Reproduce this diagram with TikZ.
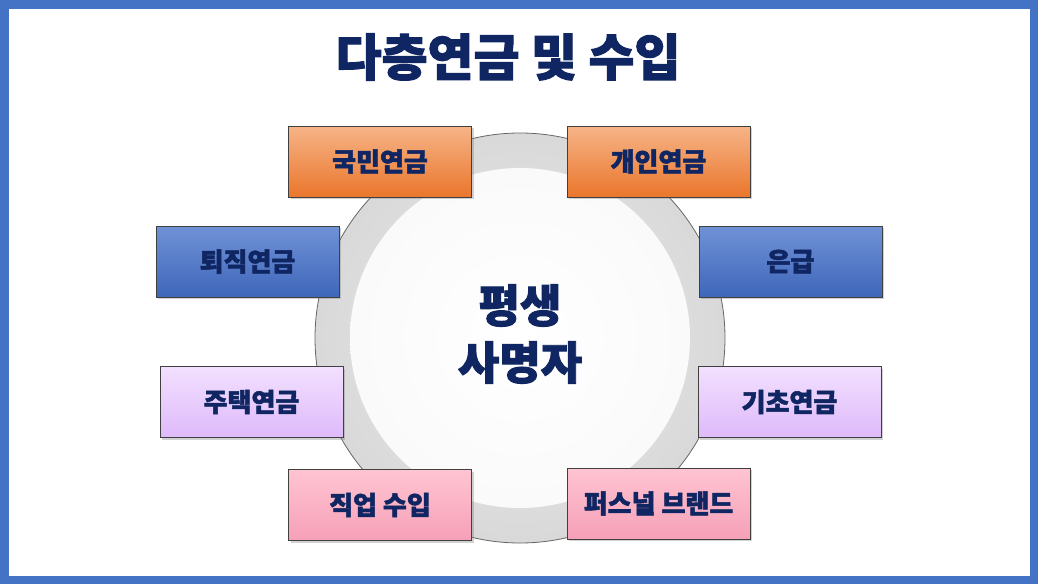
\documentclass[tikz,border=0pt]{standalone}
\usepackage{fontspec}
\setmainfont{Noto Sans CJK KR}[BoldFeatures={FakeBold=2}]
\usetikzlibrary{shadows}
\definecolor{frameblue}{RGB}{68,114,196}
\definecolor{navy}{RGB}{16,38,98}
\definecolor{orTop}{RGB}{246,180,135}
\definecolor{orBot}{RGB}{234,118,44}
\definecolor{blTop}{RGB}{112,146,214}
\definecolor{blBot}{RGB}{62,102,186}
\definecolor{lvTop}{RGB}{243,224,255}
\definecolor{lvBot}{RGB}{222,186,250}
\definecolor{pkTop}{RGB}{255,196,210}
\definecolor{pkBot}{RGB}{246,160,184}
\tikzset{
  item/.style={draw=black!75, line width=0.8pt, minimum width=183pt, minimum height=71pt,
    inner sep=0pt, text=navy, font=\bfseries\fontsize{26}{30}\selectfont,
    drop shadow={shadow xshift=2pt, shadow yshift=-2pt, opacity=0.35}},
  orangebox/.style={item, top color=orTop, bottom color=orBot},
  bluebox/.style={item, top color=blTop, bottom color=blBot},
  lavbox/.style={item, top color=lvTop, bottom color=lvBot},
  pinkbox/.style={item, top color=pkTop, bottom color=pkBot},
}
\begin{document}
\begin{tikzpicture}[x=1pt,y=-1pt]
\useasboundingbox (0,0) rectangle (1038,584);
% frame
\fill[frameblue] (0,0) rectangle (1038,584);
\fill[white] (9,9) rectangle (1030,576);
% title
\node[text=navy, font=\bfseries\fontsize{50}{58}\selectfont] (title) at (508,57) {다층연금 및 수입};
% ring
\node[circle, minimum size=410pt, draw=black!60, line width=0.8pt, inner sep=0pt,
  inner color=black!8, outer color=black!15] (ring) at (520,338) {};
\node[circle, minimum size=340pt, inner sep=0pt, inner color=white, outer color=black!2] (core) at (520,338) {};
\node[text=navy, font=\bfseries\fontsize{45}{57}\selectfont, align=center] (center) at (520,334) {평생\\사명자};
% boxes
\node[orangebox] (b1) at (380,161.5) {국민연금};
\node[orangebox] (b2) at (658.5,161.5) {개인연금};
\node[bluebox] (b3) at (247.5,261.5) {퇴직연금};
\node[bluebox] (b4) at (790.5,261.5) {은급};
\node[lavbox] (b5) at (251.5,402) {주택연금};
\node[lavbox] (b6) at (789.5,402) {기초연금};
\node[pinkbox] (b7) at (380,505) {직업 수입};
\node[pinkbox] (b8) at (658.5,503.5) {퍼스널 브랜드};
\end{tikzpicture}
\end{document}
